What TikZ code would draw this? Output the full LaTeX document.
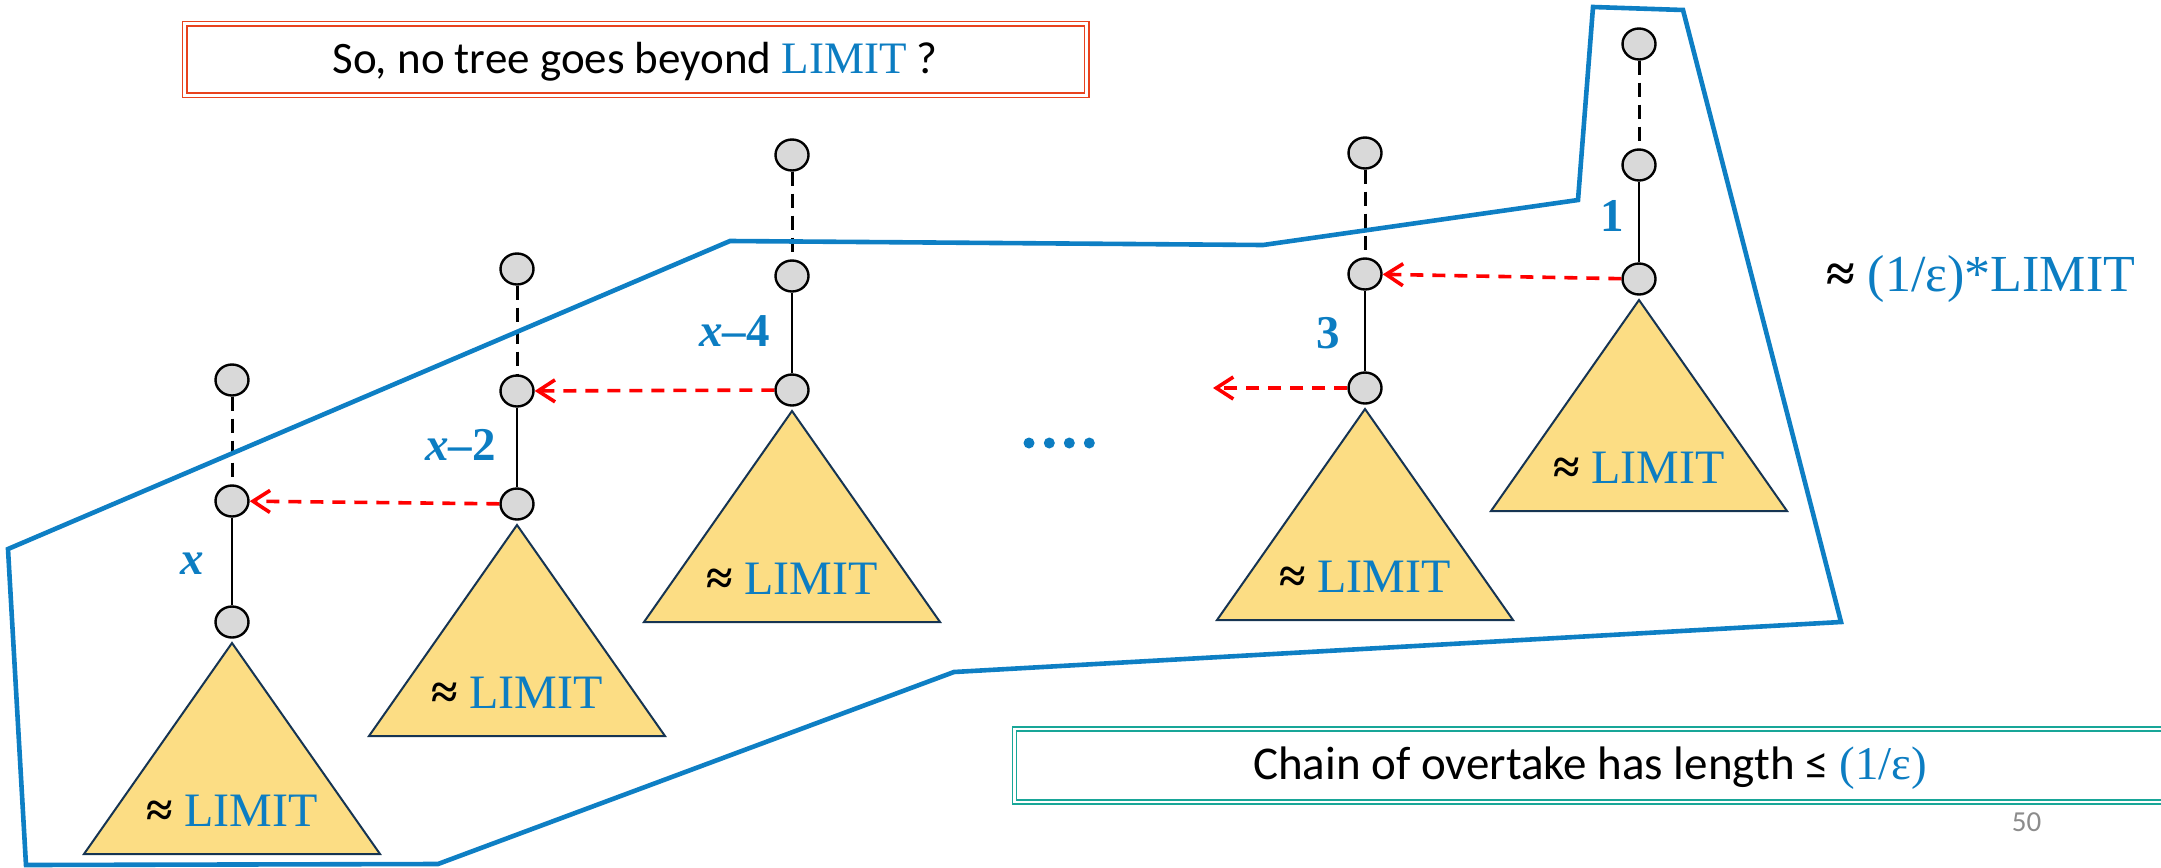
\documentclass[tikz,border=0pt]{standalone}
\usepackage{fontspec}
\setmainfont{Carlito}
\newfontfamily\serifface{Liberation Serif}
\usetikzlibrary{calc,arrows.meta,shapes.geometric}

\definecolor{lblue}{RGB}{12,125,194}
\definecolor{hullblue}{RGB}{14,127,196}
\definecolor{trifill}{RGB}{252,221,132}
\definecolor{triedge}{RGB}{22,52,82}
\definecolor{nodegray}{RGB}{217,217,217}
\definecolor{boxred}{RGB}{232,66,30}
\definecolor{boxteal}{RGB}{24,166,152}
\definecolor{pagegray}{RGB}{140,140,140}

% one chain: three vertices, a dashed and a solid edge, and the subtree below
% #1 name prefix, #2 column x, #3/#4/#5 vertex y (top, middle, bottom)
\newcommand{\drawchain}[5]{%
  \node[vnode] (#1a) at (#2,#3) {};
  \node[vnode] (#1b) at (#2,#4) {};
  \node[vnode] (#1c) at (#2,#5) {};
  \draw[stemdash] (#1a) -- (#1b);
  \draw[stem] (#1b) -- (#1c);
  \draw[tri] ($(#1c)+(0,21)$) -- ++(148,211) -- ++(-296,0) -- cycle;
  \node[limtxt, anchor=base] (#1lim) at ($(#1c)+(0,204)$)
    {\textbf{≈} \textcolor{lblue}{LIMIT}};
}

\begin{document}
\begin{tikzpicture}[x=0.5pt,y=-0.5pt,
  vnode/.style={ellipse, draw=black, line width=1.2pt, fill=nodegray,
    minimum width=16.5pt, minimum height=15.5pt, inner sep=0pt},
  stem/.style={line width=1.4pt},
  stemdash/.style={line width=1.5pt, dash pattern=on 7pt off 4pt},
  tri/.style={draw=triedge, line width=1pt, fill=trifill, line join=miter},
  overtake/.style={red, line width=1.8pt, dash pattern=on 6.5pt off 4.5pt,
    -{Straight Barb[length=8.5pt,width=11pt]}},
  hull/.style={draw=hullblue, line width=2.3pt, line join=miter},
  limtxt/.style={font=\serifface\fontsize{24}{28}\selectfont, inner sep=0pt},
  lbl/.style={font=\serifface\bfseries\fontsize{23.5}{27}\selectfont, text=lblue,
    inner sep=0pt, anchor=east},
]
\useasboundingbox (0,0) rectangle (2161,867);

% framed remarks
\draw[boxred, line width=0.9pt] (182.5,21.5) rectangle (1089,97.5);
\draw[boxred, line width=0.6pt] (187,26) rectangle (1084.5,93);
\node[anchor=base, font=\fontsize{22.5}{26}\selectfont, inner sep=0pt] (question)
  at (635,73.3) {So, no tree goes beyond {\serifface\color{lblue}LIMIT} ?};

\draw[boxteal, line width=0.9pt] (1012.5,727) rectangle (2175,804);
\draw[boxteal, line width=0.65pt] (1016.5,731) rectangle (2171,800);
\node[anchor=base, font=\fontsize{23.5}{27}\selectfont, inner sep=0pt] (chain)
  at (1590,779.3) {Chain of overtake has length ≤ {\serifface\color{lblue}(1/ε)}};

% the chains
\drawchain{tx}{232}{380}{501}{622}
\drawchain{txb}{517}{269}{391}{504}
\drawchain{txd}{792}{155}{276}{390}
\drawchain{tc}{1365}{153}{274}{388}
\drawchain{ta}{1639}{44}{165}{279}

% edge labels
\node[lbl] (lx)  at ($(txb)!0.5!(txc)+(-28,2)$) {\itshape x};
\node[lbl] (lx2) at ($(txbb)!0.5!(txbc)+(-21,-3)$) {\textit{x}–2};
\node[lbl] (lx4) at ($(txdb)!0.5!(txdc)+(-22,-2)$) {\textit{x}–4};
\node[lbl] (l3)  at ($(tcb)!0.5!(tcc)+(-25,2)$) {3};
\node[lbl] (l1)  at ($(tab)!0.5!(tac)+(-15,-6)$) {1};

% overtaking links
\coordinate (tail) at (1213,388);
\draw[overtake] (txbc) -- (txb);
\draw[overtake] (txdc) -- (txbb);
\draw[overtake] (tcc) -- (tail);
\draw[overtake] (tac) -- (tcb);

% ellipsis
\foreach \xx in {1029,1049.3,1069.3,1089.3}
  \fill[lblue] (\xx,443) circle[radius=2.75pt];

% the enclosing hull
\draw[hull] (8,549) -- (730,241) -- (1263,245) -- (1578,200) -- (1593,7)
  -- (1683,10) -- (1841,622) -- (954,672) -- (438,864) -- (26,865) -- cycle;

% total size
\node[anchor=base west, font=\serifface\fontsize{26}{30}\selectfont, inner sep=0pt]
  (total) at (1826,291) {\textbf{≈} {\color{lblue}(1/ε)*LIMIT}};

% page number
\node[font=\fontsize{14.5}{16}\selectfont, text=pagegray, inner sep=0pt] (page)
  at (2026.5,822) {50};
\end{tikzpicture}
\end{document}
